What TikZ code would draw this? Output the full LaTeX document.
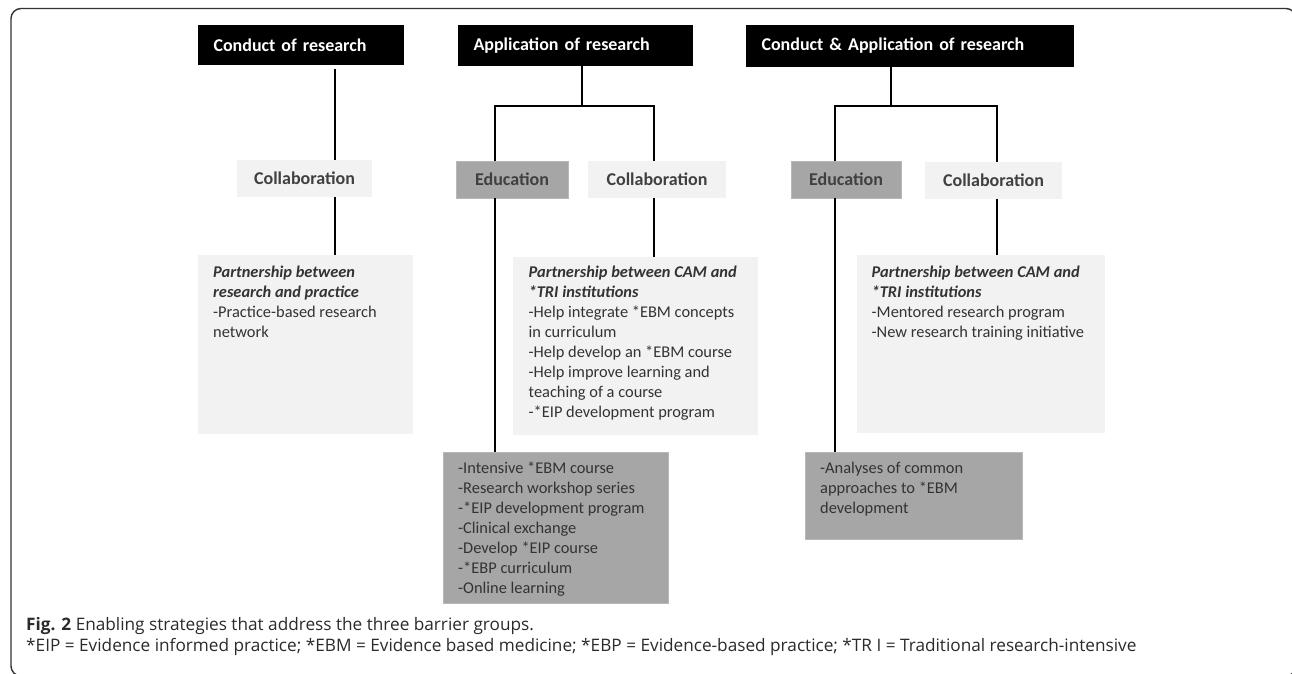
\documentclass[tikz,border=0pt]{standalone}
\usepackage{fontspec}
\setmainfont{Carlito}
\newfontfamily\capfont{Open Sans}
\definecolor{lightbox}{HTML}{F2F2F2}
\definecolor{edubox}{HTML}{A6A6A6}
\definecolor{edubord}{HTML}{B8B8B8}
\definecolor{labtxt}{HTML}{404040}
\definecolor{dettxtc}{HTML}{333333}
\definecolor{captxt}{HTML}{2B2B2B}
\definecolor{framecol}{HTML}{333333}
\newcommand\hdrfont{\fontsize{18}{20}\selectfont\bfseries}
\newcommand\lblfont{\fontsize{18}{20}\selectfont\bfseries}
\newcommand\detfont{\fontsize{16.4}{20}\selectfont}
\newcommand\bi[1]{\textbf{\textit{#1}}}
\tikzset{
  ln/.style={line width=2pt, black},
  hdr/.style={fill=black, text=white, font=\hdrfont, inner xsep=15.5pt, inner ysep=0pt, align=left},
  lbl/.style={font=\lblfont, text=labtxt, inner sep=0pt, align=center, minimum height=37pt},
  collab/.style={lbl, fill=lightbox},
  edu/.style={lbl, fill=edubox, draw=edubord, line width=0.8pt},
  lightdet/.style={fill=lightbox, inner sep=0pt},
  edudet/.style={fill=edubox, draw=edubord, line width=0.8pt, inner sep=0pt},
  dettxt/.style={font=\detfont, text=dettxtc, inner sep=0pt, align=left, anchor=north west},
  captext/.style={font=\capfont\fontsize{17.2}{20}\selectfont, text=captxt, inner sep=0pt, anchor=base west}
}
\begin{document}
\begin{tikzpicture}[x=1pt,y=-1pt]
\useasboundingbox (0,0) rectangle (1292,674);
\fill[white] (0,0) rectangle (1292,674);
% frame
\draw[line width=1.4pt, framecol, rounded corners=10pt] (11,8.5) rectangle (1296,676);

% headers
\node[hdr, text width=175pt, minimum height=40pt] (H1) at (301,45) {Conduct of research};
\node[hdr, text width=204pt, minimum height=41pt] (H2) at (575.5,45.5) {Application of research};
\node[hdr, text width=297pt, minimum height=42pt] (H3) at (910,46) {Conduct \& Application of research};

% second level
\node[collab, minimum width=135pt] (CL) at (304.5,178.5) {Collaboration};
\node[edu, minimum width=112pt] (EM) at (512,179.5) {Education};
\node[collab, minimum width=138.5pt] (CM) at (657,179.5) {Collaboration};
\node[edu, minimum width=110pt] (ER) at (846,179.5) {Education};
\node[collab, minimum width=137pt] (CR) at (993.5,180.5) {Collaboration};

% detail boxes
\node[lightdet, minimum width=215pt, minimum height=179pt] (PL) at (305,344.5) {};
\node[lightdet, minimum width=245.5pt, minimum height=178pt] (PM) at (635.25,346) {};
\node[lightdet, minimum width=248.5pt, minimum height=178pt] (PR) at (980.75,344) {};
\node[edudet, minimum width=225pt, minimum height=151pt] (EdM) at (555.5,527.5) {};
\node[edudet, minimum width=217pt, minimum height=87pt] (EdR) at (913.5,495.5) {};

% detail texts
\node[dettxt] (PLt) at (213,266) {\bi{Partnership between}\\\bi{research and practice}\\-Practice-based research\\network};
\node[dettxt] (PMt) at (528.5,266) {\bi{Partnership between CAM and}\\\bi{*TRI institutions}\\-Help integrate *EBM concepts\\in curriculum\\-Help develop an *EBM course\\-Help improve learning and\\teaching of a course\\-*EIP development program};
\node[dettxt] (PRt) at (871.5,266) {\bi{Partnership between CAM and}\\\bi{*TRI institutions}\\-Mentored research program\\-New research training initiative};
\node[dettxt] (EdMt) at (458,462) {-Intensive *EBM course\\-Research workshop series\\-*EIP development program\\-Clinical exchange\\-Develop *EIP course\\-*EBP curriculum\\-Online learning};
\node[dettxt] (EdRt) at (820,462) {-Analyses of common\\approaches to *EBM\\development};

% connectors: conduct of research
\draw[ln] ([xshift=30.5pt]CL.north) -- ([xshift=34pt,yshift=-4pt]H1.south);
\draw[ln] ([xshift=30.5pt]CL.south) -- ([xshift=30pt]PL.north);

% application of research
\coordinate (J2) at (582,106);
\draw[ln] ([xshift=6.5pt]H2.south) -- (J2);
\draw[ln] ([xshift=-17pt]EM.north) |- (J2);
\draw[ln] ([xshift=-3pt]CM.north) |- (J2);
\draw[ln] ([xshift=-17pt]EM.south) -- ([xshift=-60.5pt]EdM.north);
\draw[ln] ([xshift=-3pt]CM.south) -- ([xshift=18.75pt]PM.north);

% conduct & application
\coordinate (J3) at (891,106);
\draw[ln] ([xshift=-19pt]H3.south) -- (J3);
\draw[ln] ([xshift=-11pt]ER.north) |- (J3);
\draw[ln] ([xshift=3.5pt]CR.north) |- (J3);
\draw[ln] ([xshift=-11pt]ER.south) -- ([xshift=-78.5pt]EdR.north);
\draw[ln] ([xshift=3.5pt]CR.south) -- ([xshift=16.25pt]PR.north);

% caption
\node[captext] (cap1) at (26,630) {\textbf{Fig. 2} Enabling strategies that address the three barrier groups.};
\node[captext] (cap2) at (26,651) {*EIP = Evidence informed practice; *EBM = Evidence based medicine; *EBP = Evidence-based practice; *TR I = Traditional research-intensive};
\end{tikzpicture}
\end{document}
